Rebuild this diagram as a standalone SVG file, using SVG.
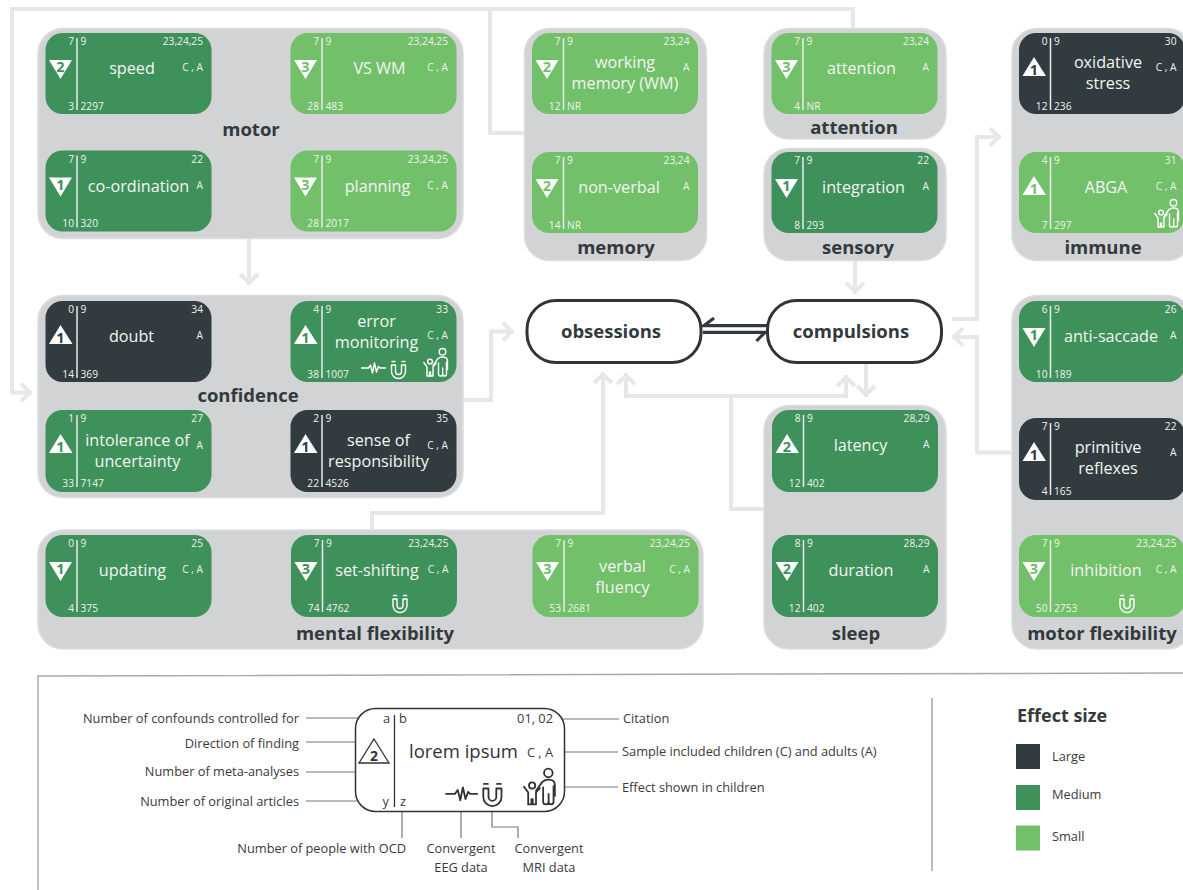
<svg xmlns="http://www.w3.org/2000/svg" width="1183" height="890" viewBox="0 0 1183 890">
<style>
text{font-family:"Open Sans","Liberation Sans",sans-serif}
.grp{fill:#d1d3d4;stroke:#dcddde;stroke-width:1.5}
.title{font-size:18.5px;font-weight:700;fill:#333a3d;text-anchor:middle}
.bg{stroke:none}
.l .bg{fill:#323c40}.m .bg{fill:#3f915c}.s .bg{fill:#73c06b}
.l .d{fill:#323c40}.m .d{fill:#3f915c}.s .d{fill:#73c06b}
.n{color:#fff}
.sep{stroke:#e9ece8;stroke-width:1.5;fill:none}
.d{font-size:14.5px;font-weight:700;text-anchor:middle}
.lab{font-size:16.2px;fill:#f2f5f0;text-anchor:middle}
.num{font-size:10.2px;fill:#eef2ec}
.e{text-anchor:end}
.tri{fill:#fff}
.ic{fill:none;stroke:currentColor;stroke-width:1.4;stroke-linecap:round;stroke-linejoin:round}
.con{fill:none;stroke:#e6e7e8;stroke-width:4}
.lcon{fill:none;stroke:#777;stroke-width:1.2}
.hp{fill:none;stroke:#333a3d;stroke-width:3.2}
.key{font-size:12.8px;fill:#3a3a3a}
.mid{text-anchor:middle}
.main{fill:#fff;stroke:#2f3436;stroke-width:3}
.mt{font-size:18.5px;font-weight:700;fill:#333a3d;text-anchor:middle}
</style>
<defs>
<marker id="a" markerUnits="userSpaceOnUse" viewBox="0 0 24 24" markerWidth="24" markerHeight="24" refX="15" refY="12" orient="auto"><path d="M4 3L12.5 12L4 21" fill="none" stroke="#e6e7e8" stroke-width="4"/></marker>
<path id="dn" class="tri" d="M3.5 27H26.5L15 46Z"/>
<path id="up" class="tri" d="M15 24L27 43H3.5Z"/>
<g id="eeg" class="ic"><path d="M0 6H7L9 3L11 11L13 1L15 10L17 4.5L18.5 6H24"/></g>
<g id="mag" class="ic"><path d="M1 5V11.5A7 7 0 0 0 15 11.5V5H11V11.5A3 3 0 0 1 5 11.5V5Z"/><path d="M1.5 1.5H4.500M11.5 1.5H14.5" stroke-dasharray="1 1"/></g>
<g id="fam" class="ic"><circle cx="19.5" cy="3.8" r="3.3"/><path d="M10 17.500L15 10.5Q17 9 19.5 9Q24.5 9 24.5 13V21.5M15.5 15V26Q15.5 28 17.500 28Q19.7 28 19.7 26V20M19.7 26Q19.7 28 21.5 28Q23.5 28 23.500 26V14"/><circle cx="7" cy="13.5" r="2.4"/><path d="M0.8 14.5L4 18.800V28H6.500V24H7.500V28H10V18.800L13 15.500"/></g>
</defs>

<g id="connectors">
<path class="con" d="M853 28V9H12V392.500H32" marker-end="url(#a)"/>
<path class="con" d="M490 9V133H524"/>
<path class="con" d="M249 239V285" marker-end="url(#a)"/>
<path class="con" d="M463 400H491V331.500H514" marker-end="url(#a)"/>
<path class="con" d="M372 530V513H603V372" marker-end="url(#a)"/>
<path class="con" d="M764 509H731V396"/>
<path class="con" d="M731 396H846V375" marker-end="url(#a)"/>
<path class="con" d="M731 396H626V373" marker-end="url(#a)"/>
<path class="con" d="M866 363V397" marker-end="url(#a)"/>
<path class="con" d="M855 260V294" marker-end="url(#a)"/>
<path class="con" d="M952 319H977V137H1001" marker-end="url(#a)"/>
<path class="con" d="M1012 452.500H977V337H952" marker-end="url(#a)"/>
<path class="hp" d="M767 325.700H704L714 318"/>
<path class="hp" d="M703 332.300H765L756.500 341"/>
</g>

<g id="obsessions"><rect class="main" x="527" y="300.500" width="174" height="62" rx="29"/><text class="mt" x="611" y="338">obsessions</text></g>
<g id="compulsions"><rect class="main" x="767.500" y="300.500" width="174" height="62" rx="29"/><text class="mt" x="851" y="338">compulsions</text></g>

<g id="motor">
<rect class="grp" x="38" y="28.500" width="425" height="210" rx="25"/>
<text class="title" x="251" y="135.500">motor</text>
<g id="speed" class="n m" transform="translate(45.500,33)"><rect class="bg" width="166" height="81" rx="17"/><path class="sep" d="M31.500 5V77"/><use href="#dn"/><text class="d" x="15" y="39">2</text><text class="num e" x="28.500" y="12">7</text><text class="num" x="35" y="12">9</text><text class="num e" x="28.500" y="76.500">3</text><text class="num" x="35" y="76.500">2297</text><text class="num e" x="157.500" y="12">23,24,25</text><text class="num e" x="157.500" y="38">C , A</text><text class="lab" x="86.500" y="41">speed</text></g>
<g id="vs-wm" class="n s" transform="translate(290.500,33)"><rect class="bg" width="166" height="81" rx="17"/><path class="sep" d="M31.500 5V77"/><use href="#dn"/><text class="d" x="15" y="39">3</text><text class="num e" x="28.500" y="12">7</text><text class="num" x="35" y="12">9</text><text class="num e" x="28.500" y="76.500">28</text><text class="num" x="35" y="76.500">483</text><text class="num e" x="157.500" y="12">23,24,25</text><text class="num e" x="157.500" y="38">C , A</text><text class="lab" x="89" y="41">VS WM</text></g>
<g id="co-ordination" class="n m" transform="translate(45.500,150.500)"><rect class="bg" width="166" height="81" rx="17"/><path class="sep" d="M31.500 5V77"/><use href="#dn"/><text class="d" x="15" y="39">1</text><text class="num e" x="28.500" y="12">7</text><text class="num" x="35" y="12">9</text><text class="num e" x="28.500" y="76.500">10</text><text class="num" x="35" y="76.500">320</text><text class="num e" x="157.500" y="12">22</text><text class="num e" x="157.500" y="38">A</text><text class="lab" x="93" y="41.500">co-ordination</text></g>
<g id="planning" class="n s" transform="translate(290.500,150.500)"><rect class="bg" width="166" height="81" rx="17"/><path class="sep" d="M31.500 5V77"/><use href="#dn"/><text class="d" x="15" y="39">3</text><text class="num e" x="28.500" y="12">7</text><text class="num" x="35" y="12">9</text><text class="num e" x="28.500" y="76.500">28</text><text class="num" x="35" y="76.500">2017</text><text class="num e" x="157.500" y="12">23,24,25</text><text class="num e" x="157.500" y="38">C , A</text><text class="lab" x="87" y="41.500">planning</text></g>
</g>

<g id="confidence">
<rect class="grp" x="38" y="295.500" width="425" height="202" rx="25"/>
<text class="title" x="248" y="401.500">confidence</text>
<g id="doubt" class="n l" transform="translate(45.500,301)"><rect class="bg" width="166" height="81" rx="17"/><path class="sep" d="M31.500 5V77"/><use href="#up"/><text class="d" x="15" y="42">1</text><text class="num e" x="28.500" y="12">0</text><text class="num" x="35" y="12">9</text><text class="num e" x="28.500" y="76.500">14</text><text class="num" x="35" y="76.500">369</text><text class="num e" x="157.500" y="12">34</text><text class="num e" x="157.500" y="38">A</text><text class="lab" x="86" y="41">doubt</text></g>
<g id="error-monitoring" class="n m" transform="translate(290.500,301)"><rect class="bg" width="166" height="81" rx="17"/><path class="sep" d="M31.500 5V77"/><use href="#up"/><text class="d" x="15" y="42">1</text><text class="num e" x="28.500" y="12">4</text><text class="num" x="35" y="12">9</text><text class="num e" x="28.500" y="76.500">38</text><text class="num" x="35" y="76.500">1007</text><text class="num e" x="157.500" y="12">33</text><text class="num e" x="157.500" y="38">C , A</text><text class="lab" x="86" y="25.700">error</text><text class="lab" x="86" y="46.700">monitoring</text><use href="#eeg" x="71" y="61"/><use href="#mag" x="100" y="59"/><use href="#fam" x="132.500" y="47"/></g>
<g id="intolerance" class="n m" transform="translate(45.500,410)"><rect class="bg" width="166" height="82" rx="17"/><path class="sep" d="M31.500 5V77"/><use href="#up"/><text class="d" x="15" y="42">1</text><text class="num e" x="28.500" y="12">1</text><text class="num" x="35" y="12">9</text><text class="num e" x="28.500" y="76.500">33</text><text class="num" x="35" y="76.500">7147</text><text class="num e" x="157.500" y="12">27</text><text class="num e" x="157.500" y="39">A</text><text class="lab" x="92" y="35.700">intolerance of</text><text class="lab" x="92" y="56.700">uncertainty</text></g>
<g id="responsibility" class="n l" transform="translate(290.500,410)"><rect class="bg" width="166" height="82" rx="17"/><path class="sep" d="M31.500 5V77"/><use href="#up"/><text class="d" x="15" y="42">1</text><text class="num e" x="28.500" y="12">2</text><text class="num" x="35" y="12">9</text><text class="num e" x="28.500" y="76.500">22</text><text class="num" x="35" y="76.500">4526</text><text class="num e" x="157.500" y="12">35</text><text class="num e" x="157.500" y="39">C , A</text><text class="lab" x="88" y="35.700">sense of</text><text class="lab" x="88" y="56.700">responsibility</text></g>
</g>

<g id="memory">
<rect class="grp" x="524.500" y="28.500" width="182" height="232" rx="25"/>
<text class="title" x="616" y="254">memory</text>
<g id="working-memory" class="n s" transform="translate(532,33)"><rect class="bg" width="166" height="81" rx="17"/><path class="sep" d="M31.500 5V77"/><use href="#dn"/><text class="d" x="15" y="39">2</text><text class="num e" x="28.500" y="12">7</text><text class="num" x="35" y="12">9</text><text class="num e" x="28.500" y="76.500">12</text><text class="num" x="35" y="76.500">NR</text><text class="num e" x="157.500" y="12">23,24</text><text class="num e" x="157.500" y="38">A</text><text class="lab" x="93" y="35">working</text><text class="lab" x="93" y="56">memory (WM)</text></g>
<g id="non-verbal" class="n s" transform="translate(532,152)"><rect class="bg" width="166" height="81" rx="17"/><path class="sep" d="M31.500 5V77"/><use href="#dn"/><text class="d" x="15" y="39">2</text><text class="num e" x="28.500" y="12">7</text><text class="num" x="35" y="12">9</text><text class="num e" x="28.500" y="76.500">14</text><text class="num" x="35" y="76.500">NR</text><text class="num e" x="157.500" y="12">23,24</text><text class="num e" x="157.500" y="38">A</text><text class="lab" x="87" y="40.700">non-verbal</text></g>
</g>

<g id="attention-group">
<rect class="grp" x="764" y="28.500" width="182" height="110.500" rx="25"/>
<text class="title" x="854" y="133.500">attention</text>
<g id="attention" class="n s" transform="translate(771.500,33)"><rect class="bg" width="166" height="81" rx="17"/><path class="sep" d="M31.500 5V77"/><use href="#dn"/><text class="d" x="15" y="39">3</text><text class="num e" x="28.500" y="12">7</text><text class="num" x="35" y="12">9</text><text class="num e" x="28.500" y="76.500">4</text><text class="num" x="35" y="76.500">NR</text><text class="num e" x="157.500" y="12">23,24</text><text class="num e" x="157.500" y="38">A</text><text class="lab" x="90" y="41">attention</text></g>
</g>

<g id="sensory">
<rect class="grp" x="764" y="148.500" width="182" height="112" rx="25"/>
<text class="title" x="858" y="254">sensory</text>
<g id="integration" class="n m" transform="translate(771.500,152)"><rect class="bg" width="166" height="81" rx="17"/><path class="sep" d="M31.500 5V77"/><use href="#dn"/><text class="d" x="15" y="39">1</text><text class="num e" x="28.500" y="12">7</text><text class="num" x="35" y="12">9</text><text class="num e" x="28.500" y="76.500">8</text><text class="num" x="35" y="76.500">293</text><text class="num e" x="157.500" y="12">22</text><text class="num e" x="157.500" y="38">A</text><text class="lab" x="92" y="40.700">integration</text></g>
</g>

<g id="immune">
<rect class="grp" x="1012" y="28.500" width="180" height="232" rx="25"/>
<text class="title" x="1103" y="254">immune</text>
<g id="oxidative-stress" class="n l" transform="translate(1019,33)"><rect class="bg" width="166" height="81" rx="17"/><path class="sep" d="M31.500 5V77"/><use href="#up"/><text class="d" x="15" y="42">1</text><text class="num e" x="28.500" y="12">0</text><text class="num" x="35" y="12">9</text><text class="num e" x="28.500" y="76.500">12</text><text class="num" x="35" y="76.500">236</text><text class="num e" x="157.500" y="12">30</text><text class="num e" x="157.500" y="38">C , A</text><text class="lab" x="89" y="35">oxidative</text><text class="lab" x="89" y="56">stress</text></g>
<g id="abga" class="n s" transform="translate(1019,152)"><rect class="bg" width="166" height="81" rx="17"/><path class="sep" d="M31.500 5V77"/><use href="#up"/><text class="d" x="15" y="42">1</text><text class="num e" x="28.500" y="12">4</text><text class="num" x="35" y="12">9</text><text class="num e" x="28.500" y="76.500">7</text><text class="num" x="35" y="76.500">297</text><text class="num e" x="157.500" y="12">31</text><text class="num e" x="157.500" y="38">C , A</text><text class="lab" x="87" y="40.700">ABGA</text><use href="#fam" x="135" y="47"/></g>
</g>

<g id="mental-flexibility">
<rect class="grp" x="38" y="530" width="665" height="119" rx="25"/>
<text class="title" x="375" y="640">mental flexibility</text>
<g id="updating" class="n m" transform="translate(45.500,535)"><rect class="bg" width="166" height="82" rx="17"/><path class="sep" d="M31.500 5V77"/><use href="#dn"/><text class="d" x="15" y="39">1</text><text class="num e" x="28.500" y="12">0</text><text class="num" x="35" y="12">9</text><text class="num e" x="28.500" y="76.500">4</text><text class="num" x="35" y="76.500">375</text><text class="num e" x="157.500" y="12">25</text><text class="num e" x="157.500" y="38">C , A</text><text class="lab" x="87" y="41">updating</text></g>
<g id="set-shifting" class="n m" transform="translate(291,535)"><rect class="bg" width="166" height="82" rx="17"/><path class="sep" d="M31.500 5V77"/><use href="#dn"/><text class="d" x="15" y="39">3</text><text class="num e" x="28.500" y="12">7</text><text class="num" x="35" y="12">9</text><text class="num e" x="28.500" y="76.500">74</text><text class="num" x="35" y="76.500">4762</text><text class="num e" x="157.500" y="12">23,24,25</text><text class="num e" x="157.500" y="38">C , A</text><text class="lab" x="86" y="41">set-shifting</text><use href="#mag" x="101" y="59"/></g>
<g id="verbal-fluency" class="n s" transform="translate(532.500,535)"><rect class="bg" width="166" height="82" rx="17"/><path class="sep" d="M31.500 5V77"/><use href="#dn"/><text class="d" x="15" y="39">3</text><text class="num e" x="28.500" y="12">7</text><text class="num" x="35" y="12">9</text><text class="num e" x="28.500" y="76.500">53</text><text class="num" x="35" y="76.500">2681</text><text class="num e" x="157.500" y="12">23,24,25</text><text class="num e" x="157.500" y="38">C , A</text><text class="lab" x="90" y="37">verbal</text><text class="lab" x="90" y="57.700">fluency</text></g>
</g>

<g id="sleep">
<rect class="grp" x="764" y="405.500" width="182" height="243.500" rx="25"/>
<text class="title" x="856" y="640">sleep</text>
<g id="latency" class="n m" transform="translate(772,410)"><rect class="bg" width="166" height="82" rx="17"/><path class="sep" d="M31.500 5V77"/><use href="#up"/><text class="d" x="15" y="42">2</text><text class="num e" x="28.500" y="12">8</text><text class="num" x="35" y="12">9</text><text class="num e" x="28.500" y="76.500">12</text><text class="num" x="35" y="76.500">402</text><text class="num e" x="157.500" y="12">28,29</text><text class="num e" x="157.500" y="38">A</text><text class="lab" x="88.500" y="41">latency</text></g>
<g id="duration" class="n m" transform="translate(772,535)"><rect class="bg" width="166" height="82" rx="17"/><path class="sep" d="M31.500 5V77"/><use href="#dn"/><text class="d" x="15" y="39">2</text><text class="num e" x="28.500" y="12">8</text><text class="num" x="35" y="12">9</text><text class="num e" x="28.500" y="76.500">12</text><text class="num" x="35" y="76.500">402</text><text class="num e" x="157.500" y="12">28,29</text><text class="num e" x="157.500" y="38">A</text><text class="lab" x="89" y="41">duration</text></g>
</g>

<g id="motor-flexibility">
<rect class="grp" x="1012" y="295.500" width="180" height="353.500" rx="25"/>
<text class="title" x="1102" y="640">motor flexibility</text>
<g id="anti-saccade" class="n m" transform="translate(1019,301)"><rect class="bg" width="166" height="81" rx="17"/><path class="sep" d="M31.500 5V77"/><use href="#dn"/><text class="d" x="15" y="39">1</text><text class="num e" x="28.500" y="12">6</text><text class="num" x="35" y="12">9</text><text class="num e" x="28.500" y="76.500">10</text><text class="num" x="35" y="76.500">189</text><text class="num e" x="157.500" y="12">26</text><text class="num e" x="157.500" y="38">A</text><text class="lab" x="92" y="41">anti-saccade</text></g>
<g id="primitive-reflexes" class="n l" transform="translate(1019,418)"><rect class="bg" width="166" height="82" rx="17"/><path class="sep" d="M31.500 5V77"/><use href="#up"/><text class="d" x="15" y="42">1</text><text class="num e" x="28.500" y="12">7</text><text class="num" x="35" y="12">9</text><text class="num e" x="28.500" y="76.500">4</text><text class="num" x="35" y="76.500">165</text><text class="num e" x="157.500" y="12">22</text><text class="num e" x="157.500" y="38">A</text><text class="lab" x="89" y="35">primitive</text><text class="lab" x="89" y="56">reflexes</text></g>
<g id="inhibition" class="n s" transform="translate(1019,535)"><rect class="bg" width="166" height="82" rx="17"/><path class="sep" d="M31.500 5V77"/><use href="#dn"/><text class="d" x="15" y="39">3</text><text class="num e" x="28.500" y="12">7</text><text class="num" x="35" y="12">9</text><text class="num e" x="28.500" y="76.500">50</text><text class="num" x="35" y="76.500">2753</text><text class="num e" x="157.500" y="12">23,24,25</text><text class="num e" x="157.500" y="38">C , A</text><text class="lab" x="87" y="41">inhibition</text><use href="#mag" x="100" y="59"/></g>
</g>

<g id="legend">
<path d="M38 890V676L1183 673" fill="none" stroke="#aaa" stroke-width="1.5"/>
<path d="M932 698V871" fill="none" stroke="#bbb" stroke-width="2"/>
<g id="legend-lines">
<path class="lcon" d="M306 718H377"/>
<path class="lcon" d="M306 742H370"/>
<path class="lcon" d="M306 772H374V765"/>
<path class="lcon" d="M306 801H377"/>
<path class="lcon" d="M402 812V838"/>
<path class="lcon" d="M461 806V838"/>
<path class="lcon" d="M492 806V827H518V838"/>
<path class="lcon" d="M561 719H619"/>
<path class="lcon" d="M558 752H618"/>
<path class="lcon" d="M558 787H618"/>
</g>
<g id="legend-node" style="color:#333">
<rect x="355.500" y="708.500" width="209" height="103" rx="20" fill="#fff" stroke="#333" stroke-width="1.5"/>
<path d="M394.500 715V807" fill="none" stroke="#333" stroke-width="1.3"/>
<path d="M374 739L389 763H359Z" fill="#fff" stroke="#333" stroke-width="1.3"/>
<text x="374" y="761" font-size="14" font-weight="700" fill="#333" text-anchor="middle">2</text>
<text class="key e" x="390" y="723">a</text><text class="key" x="399" y="723">b</text>
<text class="key e" x="389" y="806">y</text><text class="key" x="400" y="806">z</text>
<text class="key e" x="553" y="723">01, 02</text>
<text class="key e" x="553" y="757">C , A</text>
<text x="409" y="758" font-size="18.5" fill="#333">lorem ipsum</text>
<use href="#eeg" transform="translate(446,786) scale(1.3)"/>
<use href="#mag" transform="translate(482,782) scale(1.3)"/>
<use href="#fam" transform="translate(523,768) scale(1.3)"/>
</g>
<text class="key e" x="299" y="723">Number of confounds controlled for</text>
<text class="key e" x="299" y="748">Direction of finding</text>
<text class="key e" x="299" y="776">Number of meta-analyses</text>
<text class="key e" x="299" y="806">Number of original articles</text>
<text class="key e" x="406" y="853">Number of people with OCD</text>
<text class="key mid" x="461" y="853">Convergent</text><text class="key mid" x="461" y="872">EEG data</text>
<text class="key mid" x="549" y="853">Convergent</text><text class="key mid" x="549" y="872">MRI data</text>
<text class="key" x="623" y="723">Citation</text>
<text class="key" x="622" y="756">Sample included children (C) and adults (A)</text>
<text class="key" x="622" y="792">Effect shown in children</text>
<text x="1017" y="722" font-size="18" font-weight="700" fill="#333a3d">Effect size</text>
<rect x="1016" y="744" width="24" height="25" fill="#323c40"/><text class="key" x="1052" y="761">Large</text>
<rect x="1016" y="785" width="24" height="25" fill="#3f915c"/><text class="key" x="1052" y="799">Medium</text>
<rect x="1016" y="825.500" width="24" height="25" fill="#73c06b"/><text class="key" x="1052" y="841">Small</text>
</g>
</svg>
